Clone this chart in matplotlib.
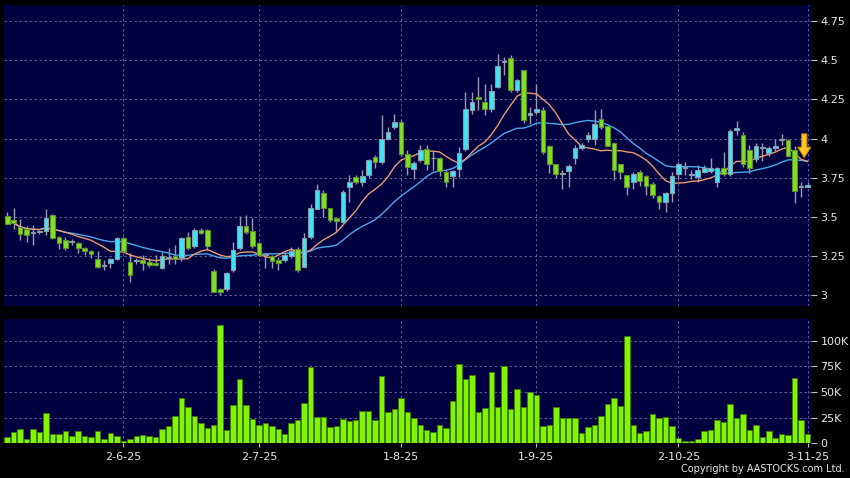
import numpy as np
import pandas as pd
import matplotlib.pyplot as plt
from matplotlib.ticker import FuncFormatter

# daily candles, 7 May 2025 .. 3 Nov 2025 (125 sessions)
opens = [
    3.507, 3.478, 3.437, 3.426, 3.400, 3.405, 3.411, 3.511, 3.373, 3.356,
    3.345, 3.337, 3.303, 3.286, 3.235, 3.188, 3.209, 3.235, 3.367, 3.213,
    3.218, 3.228, 3.213, 3.207, 3.177, 3.240, 3.250, 3.239, 3.373, 3.316,
    3.420, 3.420, 3.158, 3.043, 3.039, 3.160, 3.299, 3.443, 3.409, 3.335,
    3.256, 3.254, 3.228, 3.228, 3.250, 3.294, 3.181, 3.370, 3.554, 3.650,
    3.560, 3.496, 3.469, 3.692, 3.756, 3.724, 3.767, 3.880, 3.852, 4.000,
    4.075, 4.107, 3.900, 3.809, 3.866, 3.933, 3.873, 3.877, 3.788, 3.760,
    3.809, 3.933, 4.182, 4.267, 4.235, 4.186, 4.326, 4.490, 4.511, 4.309,
    4.437, 4.150, 4.171, 4.180, 3.954, 3.837, 3.775, 3.794, 3.879, 3.937,
    4.000, 4.000, 4.128, 4.080, 3.975, 3.835, 3.767, 3.720, 3.788, 3.760,
    3.709, 3.635, 3.596, 3.656, 3.777, 3.810, 3.770, 3.756, 3.788, 3.794,
    3.724, 3.815, 3.777, 4.054, 4.026, 3.926, 3.867, 3.940, 3.911, 3.937,
    3.990, 3.990, 3.930, 3.690, 3.690]
highs = [
    3.533, 3.560, 3.490, 3.440, 3.447, 3.420, 3.550, 3.520, 3.380, 3.373,
    3.360, 3.340, 3.310, 3.290, 3.280, 3.224, 3.240, 3.373, 3.373, 3.267,
    3.240, 3.256, 3.239, 3.256, 3.277, 3.300, 3.320, 3.373, 3.405, 3.430,
    3.430, 3.425, 3.170, 3.050, 3.150, 3.340, 3.507, 3.515, 3.494, 3.340,
    3.270, 3.260, 3.245, 3.270, 3.310, 3.310, 3.400, 3.580, 3.710, 3.670,
    3.560, 3.500, 3.670, 3.767, 3.770, 3.800, 3.870, 3.894, 4.150, 4.075,
    4.160, 4.118, 3.930, 3.860, 3.958, 3.958, 3.920, 3.880, 3.800, 3.800,
    3.947, 4.300, 4.300, 4.395, 4.350, 4.350, 4.540, 4.520, 4.535, 4.380,
    4.440, 4.200, 4.350, 4.200, 3.960, 3.840, 3.800, 3.840, 3.960, 3.970,
    4.040, 4.180, 4.190, 4.080, 3.980, 3.840, 3.770, 3.790, 3.800, 3.770,
    3.720, 3.640, 3.660, 3.790, 3.850, 3.850, 3.800, 3.830, 3.830, 3.878,
    3.820, 3.915, 4.060, 4.110, 4.040, 3.960, 3.970, 3.975, 3.950, 4.000,
    4.030, 4.000, 3.950, 3.720, 3.720]
lows = [
    3.458, 3.426, 3.352, 3.340, 3.320, 3.390, 3.384, 3.362, 3.298, 3.292,
    3.320, 3.273, 3.256, 3.240, 3.175, 3.160, 3.175, 3.228, 3.280, 3.086,
    3.200, 3.160, 3.182, 3.190, 3.167, 3.200, 3.200, 3.220, 3.290, 3.300,
    3.390, 3.288, 3.020, 3.005, 3.030, 3.150, 3.290, 3.390, 3.300, 3.250,
    3.175, 3.175, 3.160, 3.212, 3.240, 3.150, 3.180, 3.360, 3.550, 3.500,
    3.470, 3.405, 3.460, 3.596, 3.710, 3.700, 3.750, 3.810, 3.840, 3.990,
    4.060, 3.890, 3.770, 3.745, 3.850, 3.800, 3.800, 3.760, 3.690, 3.690,
    3.756, 3.920, 4.160, 4.180, 4.150, 4.170, 4.320, 4.405, 4.300, 4.300,
    4.100, 4.090, 4.160, 3.900, 3.780, 3.750, 3.680, 3.690, 3.840, 3.930,
    3.980, 3.960, 4.060, 3.950, 3.735, 3.740, 3.640, 3.680, 3.700, 3.640,
    3.620, 3.554, 3.533, 3.596, 3.740, 3.770, 3.740, 3.720, 3.780, 3.780,
    3.692, 3.760, 3.760, 4.020, 3.820, 3.780, 3.850, 3.860, 3.890, 3.920,
    3.960, 3.880, 3.586, 3.630, 3.690]
closes = [
    3.458, 3.463, 3.394, 3.388, 3.405, 3.410, 3.494, 3.369, 3.337, 3.305,
    3.340, 3.305, 3.282, 3.265, 3.184, 3.190, 3.235, 3.367, 3.286, 3.128,
    3.218, 3.209, 3.196, 3.196, 3.250, 3.245, 3.230, 3.367, 3.299, 3.420,
    3.399, 3.316, 3.022, 3.022, 3.145, 3.288, 3.443, 3.405, 3.316, 3.256,
    3.260, 3.218, 3.209, 3.256, 3.281, 3.160, 3.366, 3.560, 3.675, 3.560,
    3.479, 3.475, 3.660, 3.724, 3.724, 3.760, 3.862, 3.848, 4.000, 4.040,
    4.107, 3.900, 3.820, 3.847, 3.926, 3.837, 3.873, 3.794, 3.720, 3.794,
    3.905, 4.186, 4.235, 4.250, 4.186, 4.305, 4.463, 4.490, 4.309, 4.373,
    4.118, 4.165, 4.186, 3.915, 3.837, 3.777, 3.775, 3.826, 3.937, 3.958,
    4.026, 4.096, 4.075, 3.954, 3.798, 3.788, 3.692, 3.777, 3.728, 3.696,
    3.639, 3.596, 3.656, 3.762, 3.835, 3.810, 3.770, 3.799, 3.813, 3.815,
    3.810, 3.777, 4.047, 4.069, 3.835, 3.813, 3.954, 3.940, 3.937, 3.954,
    4.000, 3.890, 3.665, 3.690, 3.707]
# volume in thousands of shares
volumes = [
    6.5, 10.7, 14.0, 3.9, 14.0, 11.0, 29.2, 8.8, 8.8, 12.0,
    7.5, 12.0, 7.1, 6.2, 12.0, 3.9, 10.4, 7.1, 2.9, 3.9,
    7.1, 7.8, 7.1, 6.2, 14.0, 16.9, 27.0, 43.8, 35.7, 27.0,
    19.5, 14.9, 17.5, 115.0, 13.0, 37.0, 63.0, 37.0, 23.7, 17.5,
    19.5, 16.9, 13.6, 9.7, 19.5, 22.7, 39.0, 74.0, 26.0, 26.0,
    15.9, 16.9, 24.0, 22.0, 22.7, 32.0, 31.5, 22.7, 66.0, 30.8,
    33.4, 44.0, 30.2, 24.4, 18.0, 13.0, 11.6, 17.5, 15.0, 41.7,
    77.0, 63.0, 66.7, 30.7, 34.3, 69.6, 35.0, 75.4, 33.7, 52.7,
    35.6, 50.0, 47.0, 16.8, 17.5, 35.3, 24.3, 25.0, 24.3, 10.4,
    15.9, 17.5, 26.5, 38.2, 44.3, 36.6, 104.0, 17.8, 10.0, 12.6,
    28.5, 24.3, 26.2, 17.2, 5.2, 2.3, 2.3, 3.9, 12.6, 13.3,
    22.7, 20.7, 38.2, 24.9, 28.5, 13.3, 17.8, 6.5, 12.3, 5.2,
    9.0, 8.7, 63.4, 23.0, 9.7]

tick_pos = [18, 39, 61, 82, 104, 124]
tick_labels = ['2-6-25', '2-7-25', '1-8-25', '1-9-25', '2-10-25', '3-11-25']
price_ticks = [3, 3.25, 3.5, 3.75, 4, 4.25, 4.5, 4.75]
vol_ticks = [0, 25, 50, 75, 100]
signal_idx = 123.5      # sell arrow
signal_top = 4.03
signal_tip = 3.88

df = pd.DataFrame({'open': opens, 'high': highs, 'low': lows,
                   'close': closes, 'vol': volumes})
x = np.arange(len(df))
ma10 = df['close'].rolling(10, min_periods=1).mean()
ma20 = df['close'].rolling(20, min_periods=1).mean()

bg = '#000040'
grid_kw = dict(color='#6a6a9a', lw=0.6, ls=(0, (3, 3)))
txt = '#e6e6e6'

fig = plt.figure(figsize=(8.5, 4.78), dpi=100, facecolor='black')
ax = fig.add_axes([0.0047, 0.3598, 0.9491, 0.6297], facecolor=bg)
axv = fig.add_axes([0.0047, 0.0722, 0.9491, 0.2605], facecolor=bg)

# candles
up = df['close'] > df['open']
flat = (df['close'] - df['open']).abs() < 0.006
body_col = np.where(flat, '#b0b0c0', np.where(up, '#3ee6f5', '#7fe022'))
edge_col = np.where(up | flat, '#8a98a8', '#5f8f2a')
ax.vlines(x, df['low'], df['high'], color='#9a9aaa', lw=1, zorder=2)
ax.plot(x, ma20, color='#4aa8ea', lw=1, zorder=3)
ax.plot(x, ma10, color='#e89a70', lw=1, zorder=3)
body = (df['close'] - df['open']).abs().clip(lower=0.006)
ax.bar(x, body, bottom=df[['open', 'close']].min(axis=1), width=0.72,
       color=body_col, edgecolor=edge_col, lw=0.8, zorder=4)

# sell signal arrow
ax.arrow(signal_idx, signal_top, 0, signal_tip - signal_top + 0.065,
         width=0.8, head_width=2.0, head_length=0.065,
         length_includes_head=False, fc='#ffc820', ec='#d88a00', lw=0.8,
         zorder=6)

ax.set_xlim(-0.5, 124.5)
ax.set_ylim(2.932, 4.852)
ax.set_yticks(price_ticks)
ax.set_yticklabels(['3', '3.25', '3.5', '3.75', '4', '4.25', '4.5', '4.75'])
ax.set_xticks(tick_pos)
ax.tick_params(axis='x', bottom=False, labelbottom=False)
ax.yaxis.tick_right()
ax.tick_params(axis='y', colors=txt, labelsize=8, length=4, pad=3,
               color='#c0c0c0')
ax.grid(True, **grid_kw)
for s in ax.spines.values():
    s.set_visible(False)

# volume
axv.bar(x, df['vol'], width=0.85, color='#80f400', edgecolor='#3f7a00',
        lw=0.6, zorder=3)
axv.set_xlim(-0.5, 124.5)
axv.set_ylim(0, 121)
axv.set_yticks(vol_ticks)
axv.yaxis.set_major_formatter(FuncFormatter(
    lambda v, p: '0' if v == 0 else '%dK' % v))
axv.yaxis.tick_right()
axv.set_xticks(tick_pos)
axv.set_xticklabels(tick_labels)
axv.tick_params(axis='y', colors=txt, labelsize=8, length=4, pad=3,
                color='#c0c0c0')
axv.tick_params(axis='x', colors=txt, labelsize=8, length=3, pad=3,
                color='#c0c0c0')
axv.grid(True, **grid_kw)
for s in axv.spines.values():
    s.set_visible(False)

fig.text(0.994, 0.008, 'Copyright by AASTOCKS.com Ltd.', color=txt,
         fontsize=7, ha='right', va='bottom')

fig.savefig('out.png', dpi=100, facecolor='black')
